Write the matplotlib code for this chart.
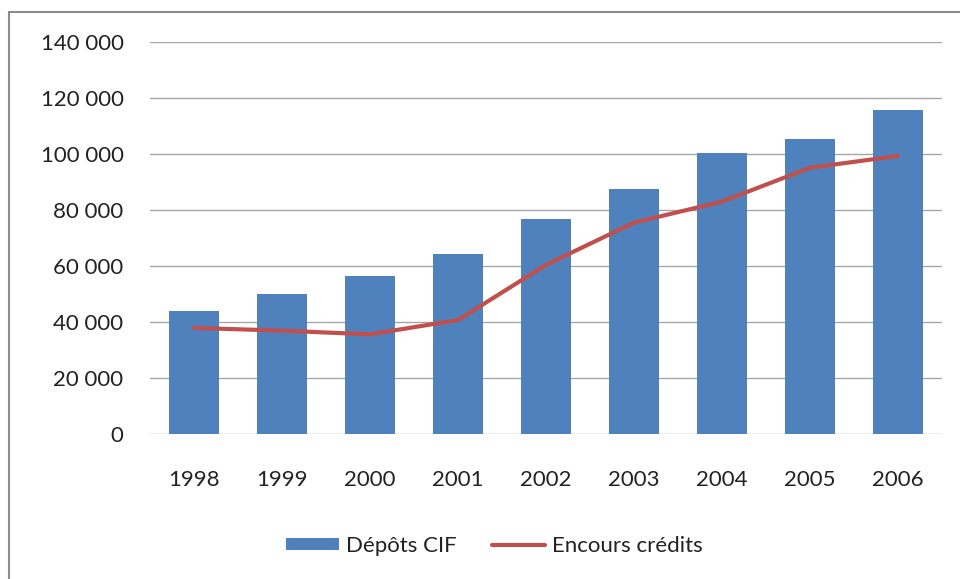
import matplotlib.pyplot as plt
from matplotlib.patches import Rectangle
from matplotlib.ticker import FuncFormatter

# ── Data ───────────────────────────────────────────────────────────────────────
years   = ['1998', '1999', '2000', '2001', '2002', '2003', '2004', '2005', '2006']
depots  = [44000, 50000, 56500, 64300, 76800, 87400, 100200, 105200, 115700]
credits = [37900, 36900, 35600, 40700, 60400, 75500, 83000, 95100, 99300]

BLUE = '#4F81BD'
RED  = '#C0504D'

plt.rcParams['font.family'] = ['Lato', 'DejaVu Sans']

fig = plt.figure(figsize=(9.6, 5.79), dpi=100)
ax = fig.add_axes([150 / 960, 1 - 434 / 579, 792 / 960, 392 / 579])

x = range(len(years))
bars = ax.bar(x, depots, width=0.56, color=BLUE, label='Dépôts CIF', zorder=2)
line, = ax.plot(x, credits, color=RED, lw=3, label='Encours crédits', zorder=3,
                solid_capstyle='round')

ax.set_xlim(-0.5, len(years) - 0.5)
ax.set_ylim(0, 140000)
ax.set_yticks(range(0, 140001, 20000))
ax.yaxis.set_major_formatter(FuncFormatter(lambda v, _: f'{int(v):,}'.replace(',', ' ')))
ax.set_xticks(list(x))
ax.set_xticklabels(years)
ax.grid(axis='y', color='#A6A6A6', lw=1, zorder=0)
ax.set_axisbelow(True)
for s in ax.spines.values():
    s.set_visible(False)
ax.tick_params(length=0, labelsize=16, colors='#222222')
ax.tick_params(axis='y', pad=19)
ax.tick_params(axis='x', pad=26)

fig.legend([bars, line], ['Dépôts CIF', 'Encours crédits'],
           loc='center', bbox_to_anchor=(0.515, 1 - 546 / 579), ncol=2,
           frameon=False, fontsize=16, handlelength=2.4, handleheight=0.5,
           handletextpad=0.3, columnspacing=1.6, labelcolor='#222222')

# outer frame of the chart box
fig.patches.append(Rectangle((9 / 960, -0.05), 1.0, 1 - 12 / 579 + 0.05,
                             transform=fig.transFigure, fill=False,
                             edgecolor='#8C8C8C', lw=1.5))

fig.savefig('out.png', dpi=100)
